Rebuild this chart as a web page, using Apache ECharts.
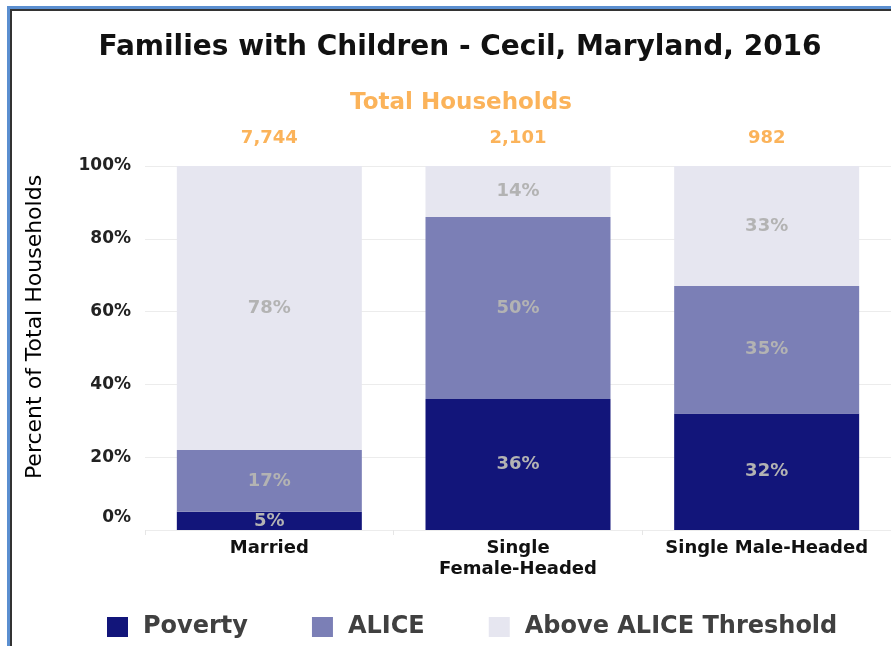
<!DOCTYPE html>
<html>
<head>
<meta charset="utf-8">
<script src="https://cdn.jsdelivr.net/npm/echarts@6/dist/echarts.min.js"></script>
<style>html,body{margin:0;padding:0;background:#fff}#c{width:891px;height:646px}</style>
</head>
<body>
<div id="c"></div>
<script>
const categories = ['Married', 'Single\nFemale-Headed', 'Single Male-Headed'];
const totals = ['7,744', '2,101', '982'];
const poverty = [5, 36, 32];
const alice = [17, 50, 35];
const above = [78, 14, 33];
const yTicks = [0, 20, 40, 60, 80, 100];

const chart = echarts.init(document.getElementById('c'));
const F = '"DejaVu Sans", "Liberation Sans", Arial, sans-serif';
const lbl = {show: true, position: 'inside', color: '#b3b3b3', fontWeight: 'bold', fontSize: 18, fontFamily: F, formatter: p => p.value + '%'};
chart.setOption({
  animation: false,
  textStyle: {fontFamily: F},
  graphic: [
    {type: 'rect', shape: {x: 7, y: 6, width: 900, height: 3}, style: {fill: '#5b8fd0'}},
    {type: 'rect', shape: {x: 7, y: 6, width: 3, height: 660}, style: {fill: '#5b8fd0'}},
    {type: 'rect', shape: {x: 10, y: 9, width: 900, height: 2}, style: {fill: '#333'}},
    {type: 'rect', shape: {x: 10, y: 9, width: 2, height: 660}, style: {fill: '#333'}}
  ],
  title: [
    {text: 'Families with Children - Cecil, Maryland, 2016', left: 455, textAlign: 'center', top: 29,
     textStyle: {fontSize: 28, fontWeight: 'bold', color: '#111', fontFamily: F}},
    {text: 'Total Households', left: 456, textAlign: 'center', top: 87,
     textStyle: {fontSize: 23, fontWeight: 'bold', color: '#fbb35a', fontFamily: F}}
  ],
  legend: {
    left: 102, top: 610, itemWidth: 21, itemHeight: 20, itemGap: 64,
    icon: 'rect',
    textStyle: {fontSize: 24, fontWeight: 'bold', color: '#404040', fontFamily: F, padding: [0, 0, 0, 10]},
    data: ['Poverty', 'ALICE', 'Above ALICE Threshold']
  },
  grid: {left: 145, top: 166, width: 747, bottom: 116},
  xAxis: [
    {type: 'category', data: categories,
     axisLine: {show: false}, axisTick: {show: true, lineStyle: {color: '#e6e6e6'}, length: 5},
     axisLabel: {interval: 0, fontSize: 18, fontWeight: 'bold', color: '#111', lineHeight: 21, margin: 8, fontFamily: F}},
    {type: 'category', data: totals, position: 'top',
     axisLine: {show: false}, axisTick: {show: false},
     axisLabel: {interval: 0, fontSize: 18, fontWeight: 'bold', color: '#fbb35a', margin: 19, fontFamily: F}}
  ],
  yAxis: {
    type: 'value', min: 0, max: 100, interval: 20,
    name: 'Percent of Total Households', nameLocation: 'middle', nameGap: 99,
    nameTextStyle: {fontSize: 22, color: '#000', fontFamily: F, padding: [0, 0, 0, 42]},
    axisLabel: {fontSize: 17, fontWeight: 'bold', color: '#222', margin: 14, fontFamily: F,
      formatter: v => v === 0 ? '{z|0%}' : v + '%',
      rich: {z: {fontSize: 17, fontWeight: 'bold', color: '#222', fontFamily: F, padding: [0, 0, 24, 0]}}},
    splitLine: {lineStyle: {color: '#ececec'}},
    axisLine: {show: false}, axisTick: {show: false}
  },
  series: [
    {name: 'Poverty', type: 'bar', stack: 'a', data: poverty, barWidth: 185, itemStyle: {color: '#12157a'}, label: lbl},
    {name: 'ALICE', type: 'bar', stack: 'a', data: alice, itemStyle: {color: '#7b7fb6'}, label: lbl},
    {name: 'Above ALICE Threshold', type: 'bar', stack: 'a', data: above, itemStyle: {color: '#e6e6f0'}, label: lbl}
  ]
});
</script>
</body>
</html>
